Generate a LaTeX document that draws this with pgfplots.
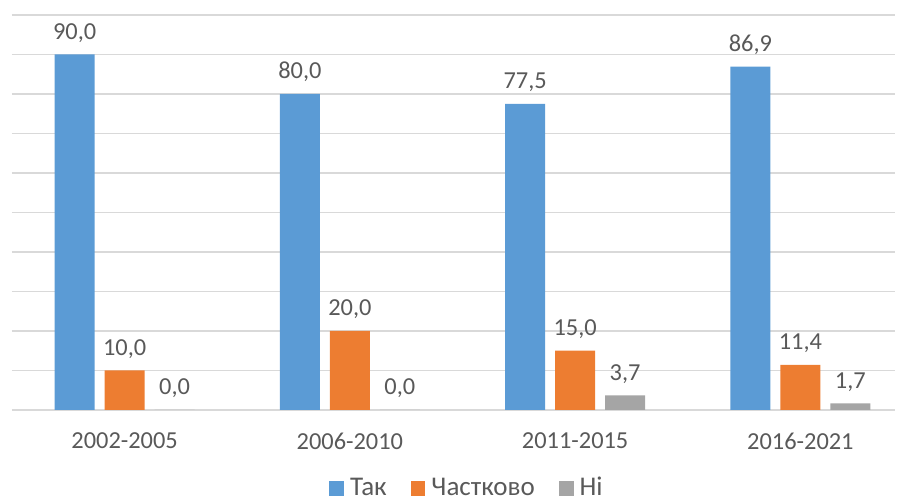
\documentclass[border=0pt]{standalone}
\usepackage{fontspec}
\setmainfont{Carlito}
\usepackage{pgfplots}
\pgfplotsset{compat=1.18}
\definecolor{cblue}{HTML}{5B9BD5}
\definecolor{corange}{HTML}{ED7D31}
\definecolor{cgray}{HTML}{A5A5A5}
\definecolor{txt}{HTML}{595959}
\definecolor{gridc}{HTML}{D9D9D9}
\begin{document}
\begin{tikzpicture}
\path[use as bounding box] (0,0) rectangle (450.5pt,250.5pt);
\begin{axis}[
  at={(6pt,45.5pt)}, anchor=south west,
  scale only axis, width=441.5pt, height=197.5pt,
  ybar=5pt, bar width=20pt,
  xmin=-0.5, xmax=3.42, ymin=0, ymax=100,
  xtick={0,1,2,3},
  xticklabels={2002-2005,2006-2010,2011-2015,2016-2021},
  ytick={0,10,...,100}, yticklabels={},
  ymajorgrids, grid style={draw=gridc, line width=0.8pt},
  axis line style={draw=none},
  major tick length=0pt,
  xticklabel style={font=\fontsize{12.2}{14}\selectfont, text=txt, yshift=-8pt},
  nodes near coords,
  nodes near coords style={font=\fontsize{12.2}{14}\selectfont, text=txt, anchor=south, yshift=2.5pt,
    /pgf/number format/.cd, fixed, fixed zerofill, precision=1, use comma, assume math mode=true},
  legend columns=3,
  legend style={at={(0.5175,-0.198)}, anchor=center, draw=none, fill=none,
    font=\fontsize{13.5}{16}\selectfont, text=txt,
    nodes={inner xsep=3pt, inner ysep=1pt},
    /tikz/every odd column/.append style={column sep=0pt},
    /tikz/every even column/.append style={column sep=9pt}},
  legend image code/.code={\fill[#1] (0pt,-3.7pt) rectangle (7.4pt,3.7pt);},
]
\addplot[fill=cblue, draw=none] coordinates {(0,90) (1,80) (2,77.5) (3,86.9)};
\addplot[fill=corange, draw=none] coordinates {(0,10) (1,20) (2,15) (3,11.4)};
\addplot[fill=cgray, draw=none] coordinates {(0,0) (1,0) (2,3.7) (3,1.7)};
\legend{Так, Частково, Ні}
\end{axis}
\end{tikzpicture}
\end{document}
